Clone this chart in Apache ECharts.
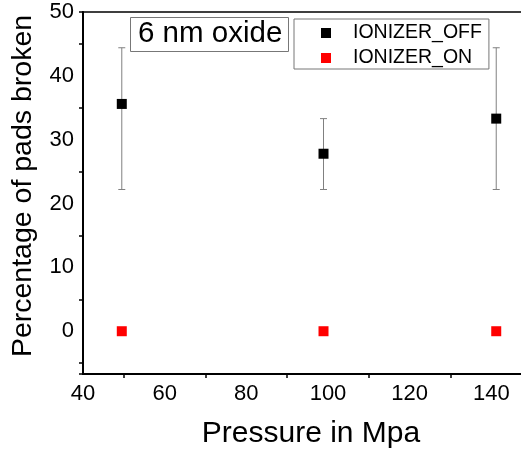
<!DOCTYPE html>
<html>
<head>
<meta charset="utf-8">
<script src="https://cdn.jsdelivr.net/npm/echarts@6/dist/echarts.min.js"></script>
<style>
  html, body { margin: 0; padding: 0; background: #fff; }
  #chart { width: 521px; height: 453px; }
</style>
</head>
<body>
<div id="chart"></div>
<script>
// pressure (MPa) for each measurement
const pressure = [49.5, 98.9, 141.2];
// ionizer off: mean and error range
const offMean = [35.6, 27.8, 33.3];
const offLow = [22.2, 22.2, 22.2];
const offHigh = [44.4, 33.3, 44.4];
// ionizer on
const onMean = [0, 0, 0];

const seriesNames = ['IONIZER_OFF', 'IONIZER_ON'];
const xTicks = [40, 60, 80, 100, 120, 140, 160];

const font = 'Liberation Sans, Arial, sans-serif';

const chart = echarts.init(document.getElementById('chart'));

const errData = pressure.map((p, i) => [p, offLow[i], offHigh[i]]);

const options = {
  animation: false,
  backgroundColor: '#fff',
  title: {
    text: '6 nm oxide',
    left: 130,
    top: 17,
    padding: [2, 6, 3, 8],
    borderColor: '#777',
    borderWidth: 1,
    backgroundColor: '#fff',
    textStyle: { fontFamily: font, fontSize: 29.5, fontWeight: 'normal', color: '#000' }
  },
  legend: {
    data: seriesNames,
    orient: 'vertical',
    left: 294,
    top: 19,
    padding: [4, 7, 1, 27],
    itemGap: 5,
    itemWidth: 10,
    itemHeight: 10,
    borderColor: '#777',
    borderWidth: 1,
    backgroundColor: '#fff',
    textStyle: { fontFamily: font, fontSize: 19.5, color: '#000', lineHeight: 20, padding: [0, 0, 0, 17] }
  },
  grid: {
    left: 83,
    right: -52,
    top: 12,
    bottom: 79,
    outerBoundsMode: 'none',
    containLabel: false,
    show: true,
    borderColor: '#000',
    borderWidth: 1.5
  },
  xAxis: {
    type: 'value',
    min: xTicks[0],
    max: xTicks[xTicks.length - 1],
    interval: 20,
    name: 'Pressure in Mpa',
    nameLocation: 'middle',
    nameGap: 45,
    nameTextStyle: { fontFamily: font, fontSize: 30, color: '#000', padding: [0, 34, 0, 0] },
    axisLine: { onZero: false, lineStyle: { color: '#000', width: 2 } },
    axisTick: { show: false },
    minorTick: { show: true, splitNumber: 2, length: 4, lineStyle: { color: '#000', width: 1.5 } },
    axisLabel: { fontFamily: font, fontSize: 22, color: '#000', margin: 9 },
    splitLine: { show: false }
  },
  yAxis: [
    {
      type: 'value',
      min: -6.7,
      max: 50,
      splitNumber: 5,
      name: 'Percentage of pads broken',
      nameLocation: 'middle',
      nameGap: 45,
      nameTextStyle: { fontFamily: font, fontSize: 28.5, color: '#000', padding: [0, 0, 0, 14] },
      axisLine: { show: true, onZero: false, lineStyle: { color: '#000', width: 2 } },
      axisTick: { show: false },
      axisLabel: {
        fontFamily: font, fontSize: 22, color: '#000', margin: 9,
        formatter: v => (Math.abs(v % 10) < 1e-6 ? String(v) : '')
      },
      splitLine: { show: false }
    },
    {
      // helper axis, shifted by 5, only used to draw the ticks between labels
      type: 'value',
      position: 'left',
      min: -1.7,
      max: 55,
      splitNumber: 5,
      axisLine: { show: false, onZero: false },
      axisTick: { show: true, length: 4, lineStyle: { color: '#000', width: 1.5 } },
      axisLabel: { show: false },
      splitLine: { show: false }
    }
  ],
  series: [
    {
      name: 'errors',
      type: 'custom',
      data: errData,
      z: 1,
      renderItem: (params, api) => {
        const x = api.value(0);
        const top = api.coord([x, api.value(2)]);
        const bot = api.coord([x, api.value(1)]);
        const w = 3.5;
        const st = { stroke: '#808080', lineWidth: 1 };
        return {
          type: 'group',
          children: [
            { type: 'line', shape: { x1: top[0], y1: top[1], x2: bot[0], y2: bot[1] }, style: st },
            { type: 'line', shape: { x1: top[0] - w, y1: top[1], x2: top[0] + w, y2: top[1] }, style: st },
            { type: 'line', shape: { x1: bot[0] - w, y1: bot[1], x2: bot[0] + w, y2: bot[1] }, style: st }
          ]
        };
      }
    },
    {
      name: seriesNames[0],
      type: 'scatter',
      symbol: 'rect',
      symbolSize: 10,
      z: 3,
      itemStyle: { color: '#000', opacity: 1 },
      data: pressure.map((p, i) => [p, offMean[i]])
    },
    {
      name: seriesNames[1],
      type: 'scatter',
      symbol: 'rect',
      symbolSize: 10,
      z: 3,
      itemStyle: { color: '#ff0000', opacity: 1 },
      data: pressure.map((p, i) => [p, onMean[i]])
    }
  ]
};

chart.setOption(options);
</script>
</body>
</html>
